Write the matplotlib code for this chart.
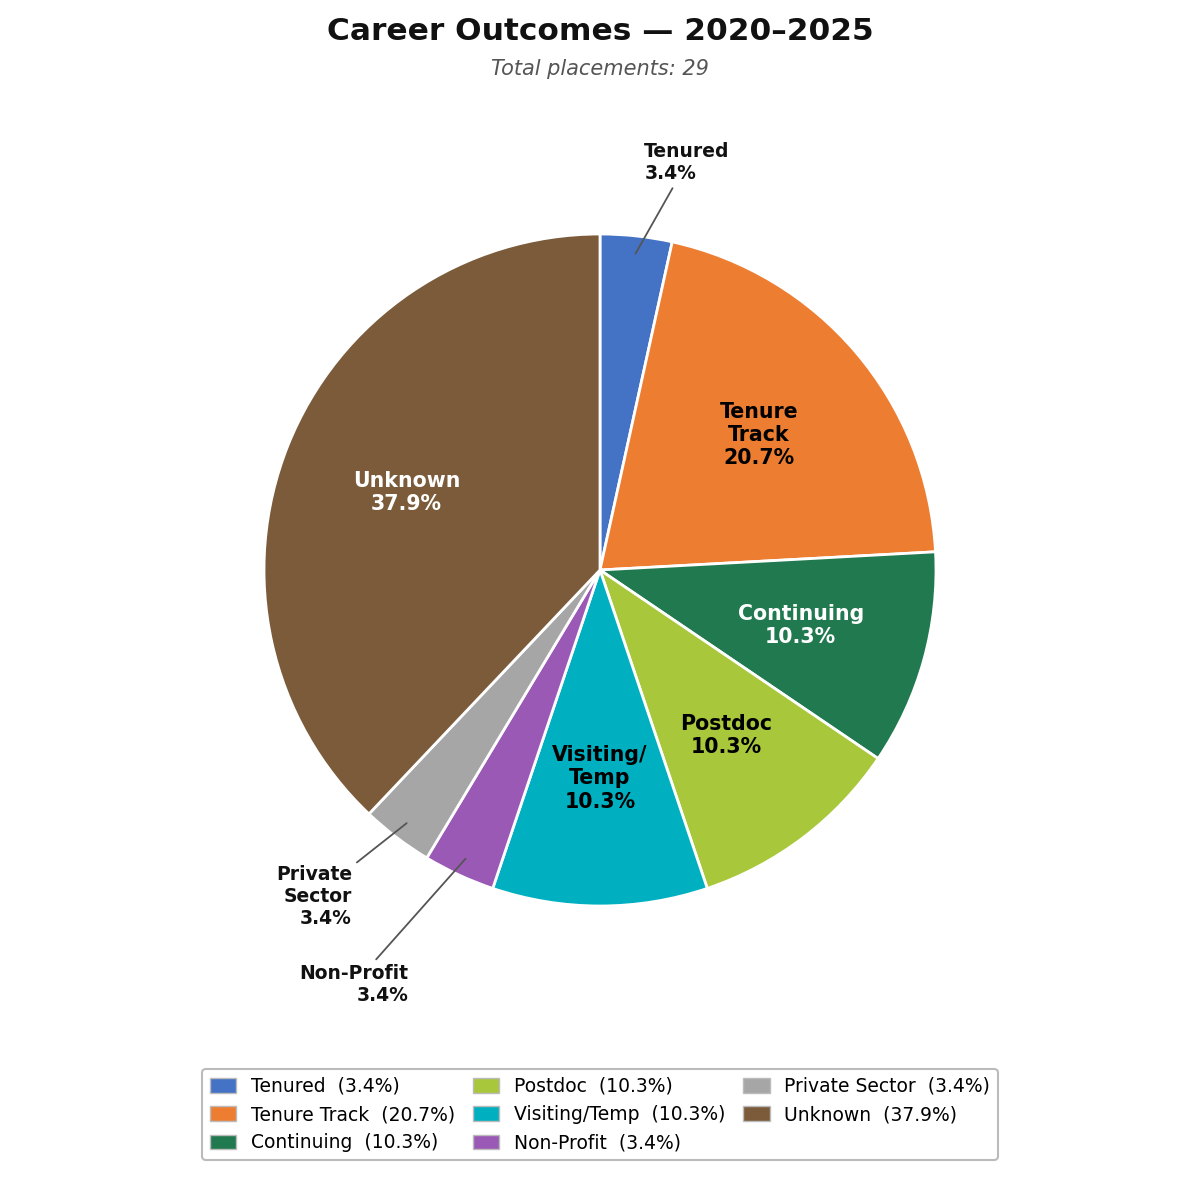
import matplotlib
matplotlib.use("Agg")
import matplotlib.pyplot as plt
from matplotlib.patches import Patch
import numpy as np

categories = ["Tenured", "Tenure Track", "Continuing", "Postdoc", "Visiting/Temp",
              "Non-Profit", "Private Sector", "Unknown"]
label_text = ["Tenured", "Tenure\nTrack", "Continuing", "Postdoc", "Visiting/\nTemp",
              "Non-Profit", "Private\nSector", "Unknown"]
counts = [1, 6, 3, 3, 3, 1, 1, 11]
colors = ["#4472C4", "#ED7D31", "#217A4F", "#A9C73A", "#00B0C0",
          "#9B59B6", "#A6A6A6", "#7B5B3A"]
inside_text_colors = ["black", "black", "white", "black", "black", "black", "black", "white"]

total = sum(counts)
pcts = [100.0 * c / total for c in counts]

fig = plt.figure(figsize=(12, 12), dpi=100)
R_PX = 336.0
cx, cy = 600.0, 570.0
ax = fig.add_axes([0, 0, 1, 1])

wedges, _ = ax.pie(counts, colors=colors, startangle=90, counterclock=False,
                   radius=1.0, center=(0, 0),
                   wedgeprops=dict(edgecolor="white", linewidth=2))
ax.set_xlim(-cx / R_PX, (1200 - cx) / R_PX)
ax.set_ylim(-(1200 - cy) / R_PX, cy / R_PX)
ax.set_aspect("equal")
ax.axis("off")

outside_r = {"Tenured": 1.22, "Non-Profit": 1.36, "Private Sector": 1.22}

for w, cat, lab, p, tc in zip(wedges, categories, label_text, pcts, inside_text_colors):
    ang = np.deg2rad((w.theta1 + w.theta2) / 2.0)
    ca, sa = np.cos(ang), np.sin(ang)
    txt = f"{lab}\n{p:.1f}%"
    if p < 5:
        rr = outside_r.get(cat, 1.22)
        ha = "left" if ca > 0 else "right"
        ax.annotate(txt, xy=(0.94 * ca, 0.94 * sa), xytext=(rr * ca, rr * sa),
                    ha=ha, va="center", fontsize=13.5, fontweight="bold",
                    color="#111111", multialignment=ha, linespacing=1.2,
                    arrowprops=dict(arrowstyle="-", color="#555555", lw=1.3))
    else:
        ax.text(0.62 * ca, 0.62 * sa, txt, ha="center", va="center",
                fontsize=14.8, fontweight="bold", color=tc, linespacing=1.2)

fig.text(0.5, 1 - 31 / 1200, "Career Outcomes — 2020–2025", ha="center", va="center",
         fontsize=22.5, fontweight="bold", color="#111111")
fig.text(0.5, 1 - 69 / 1200, f"Total placements: {total}", ha="center", va="center",
         fontsize=15, style="italic", color="#555555")

handles = [Patch(facecolor=c, edgecolor="#BBBBBB", linewidth=1) for c in colors]
leg_labels = [f"{c}  ({p:.1f}%)" for c, p in zip(categories, pcts)]
leg = fig.legend(handles, leg_labels, loc="lower center", bbox_to_anchor=(0.5, 40 / 1200),
                 borderaxespad=0, ncol=3, fontsize=13.5, frameon=True, edgecolor="#AAAAAA",
                 fancybox=True, handlelength=1.4, handleheight=0.85, columnspacing=0.95,
                 labelspacing=0.5, borderpad=0.4)
leg.get_frame().set_linewidth(1.5)

fig.savefig("out.png", dpi=100)
